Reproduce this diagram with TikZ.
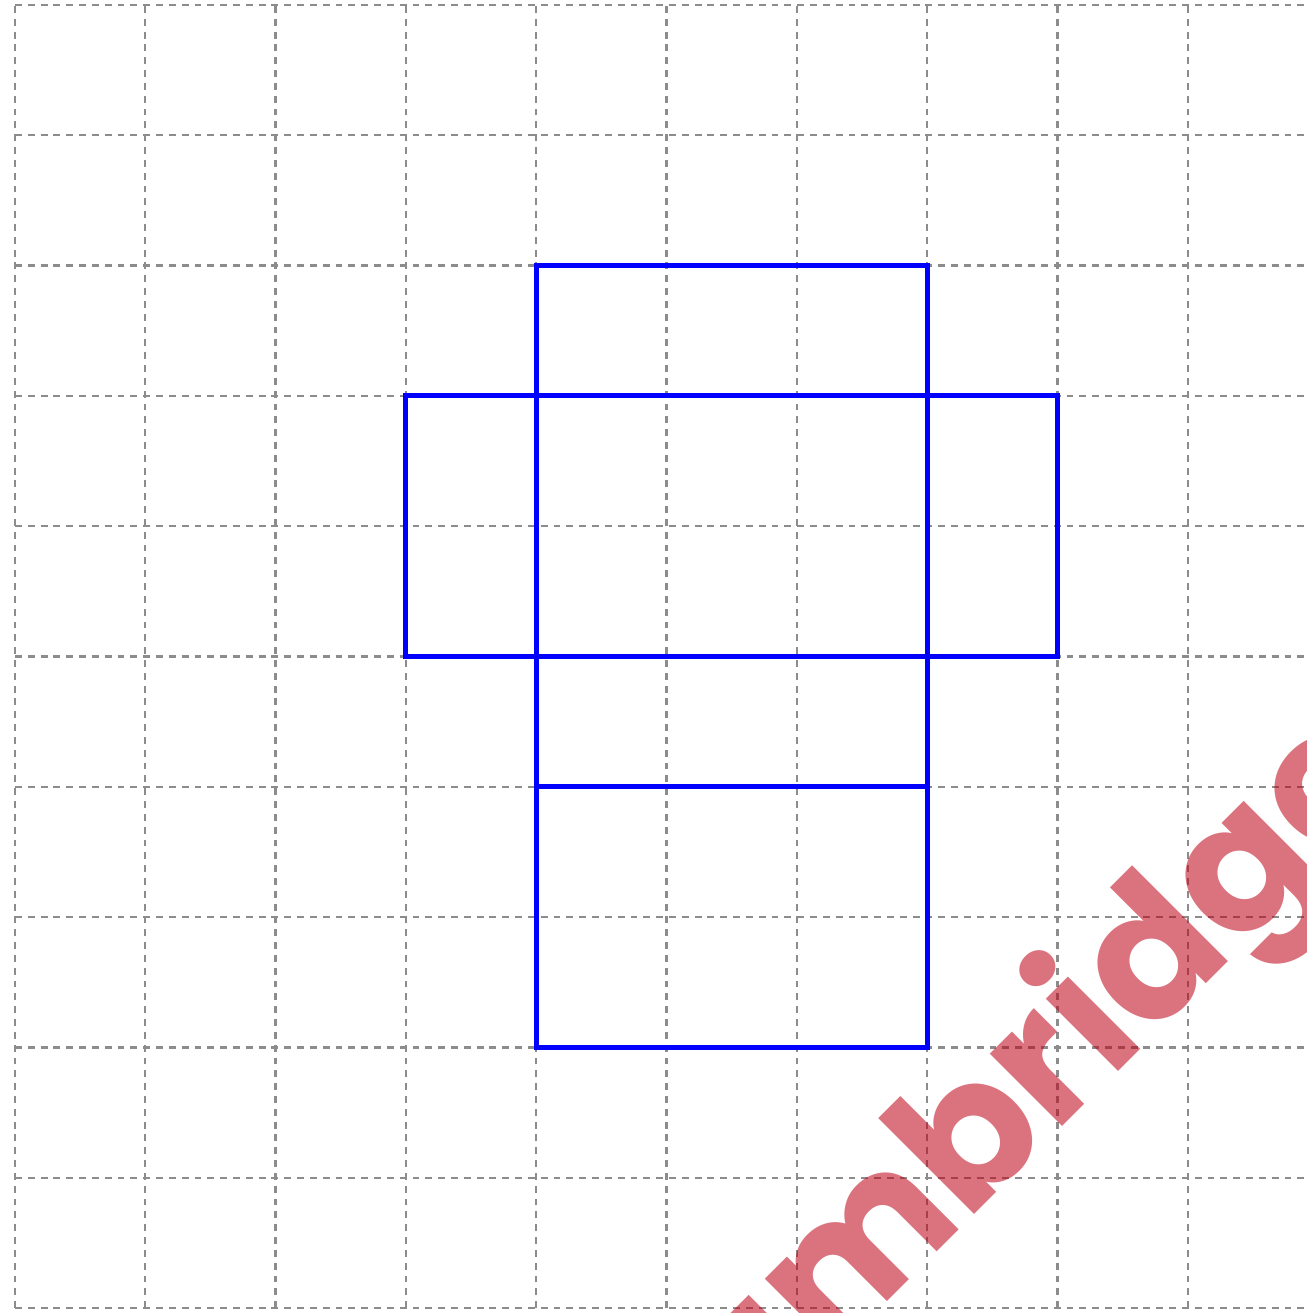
\documentclass[tikz,border=0pt]{standalone}
\usepackage{fontspec}
\newfontfamily\markfont{Poppins}
\definecolor{markred}{RGB}{190,0,20}
\tikzset{
	gridline/.style={black!45, line width=0.5pt, dash pattern=on 1.5pt off 1.3pt},
	netline/.style={blue, line width=1.1pt},
	watermark/.style={text=markred, text opacity=0.55, rotate=45, anchor=base, inner sep=0pt,
		font=\markfont\bfseries\fontsize{40}{40}\selectfont}
}
\begin{document}
\begin{tikzpicture}
			\useasboundingbox (-0.115,-0.038) rectangle (9.908,10.038);
			\clip (-0.115,-0.038) rectangle (9.908,10.038);
			\draw [gridline] (0,0) grid (10,10);
			\draw [netline] (4,2) rectangle (7,8);
			\draw [netline] (3,5) rectangle (8,7);
			\draw [netline] (4,4) -- (7,4);
			\node[watermark] (mark) at (7.74,1.09) {Cambridge};
		\end{tikzpicture}
\end{document}
